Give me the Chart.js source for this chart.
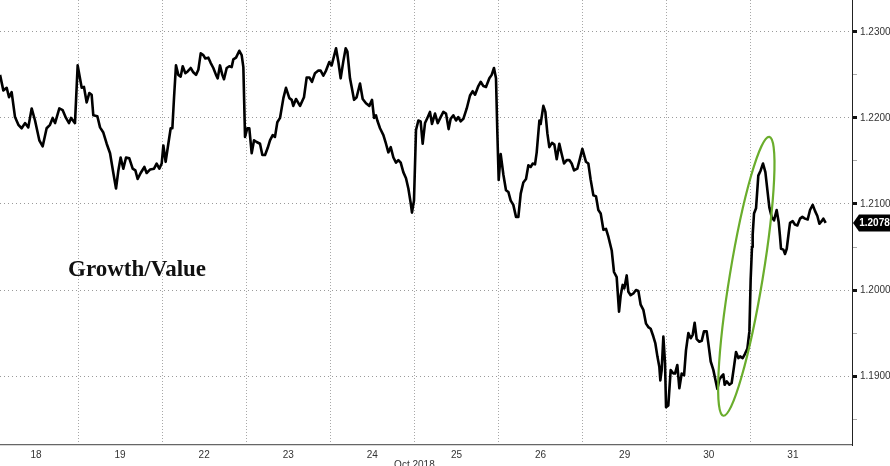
<!DOCTYPE html>
<html>
<head>
<meta charset="utf-8">
<script src="https://cdn.jsdelivr.net/npm/chart.js@4.4.0/dist/chart.umd.min.js"></script>
<style>
html, body { margin: 0; padding: 0; background: #fff; }
#wrap { width: 890px; height: 466px; }
</style>
</head>
<body>
<div id="wrap"><canvas id="myChart" width="890" height="466"></canvas></div>
<script>
// trading days shown on the axis (x unit = one trading day, 0 = start of Oct 18)
var dayLabels = ["18", "19", "22", "23", "24", "25", "26", "29", "30", "31"];
var dayCentres = [0.5, 1.5, 2.5, 3.5, 4.5, 5.5, 6.5, 7.5, 8.5, 9.5];
var dayBreaks = [1, 2, 3, 4, 5, 6, 7, 8, 9];
var monthLabel = "Oct 2018";

var yTicks = [1.185, 1.19, 1.195, 1.2, 1.205, 1.21, 1.215, 1.22, 1.225, 1.23];
var xMin = 0.0725, xMax = 10.203;
var yMin = 1.1820, yMax = 1.2337;

// sample time (in trading days) and Growth/Value ratio
var times = [
  // 18
  0.073, 0.112, 0.152, 0.180, 0.211, 0.251, 0.291, 0.330, 0.370, 0.409, 0.449, 0.489, 0.540,
  0.580, 0.627, 0.667, 0.699, 0.727, 0.778, 0.818, 0.857, 0.893, 0.917, 0.964, 0.996,
  // 19
  1.044, 1.071, 1.103, 1.135, 1.162, 1.182, 1.230, 1.262, 1.301, 1.341, 1.381, 1.420, 1.452,
  1.480, 1.507, 1.539, 1.571, 1.610, 1.650, 1.682, 1.709, 1.745, 1.789, 1.816, 1.856, 1.904,
  1.935, 1.967, 1.995, 2.015,
  // 22
  2.042, 2.074, 2.102, 2.122, 2.142, 2.165, 2.193, 2.221, 2.245, 2.276, 2.304, 2.340, 2.371,
  2.403, 2.431, 2.459, 2.490, 2.514, 2.550, 2.577, 2.609, 2.641, 2.661, 2.688, 2.716, 2.736,
  2.768, 2.799, 2.827, 2.847, 2.879, 2.918, 2.946, 2.966, 2.986,
  // 23
  3.013, 3.037, 3.065, 3.093, 3.124, 3.164, 3.192, 3.224, 3.255, 3.283, 3.315, 3.342, 3.370,
  3.402, 3.442, 3.473, 3.513, 3.541, 3.560, 3.592, 3.640, 3.687, 3.719, 3.751, 3.782, 3.818,
  3.858, 3.885, 3.917, 3.949, 3.988,
  // 24
  4.016, 4.068, 4.096, 4.123, 4.155, 4.183, 4.203, 4.234, 4.254, 4.282, 4.313, 4.353, 4.385,
  4.424, 4.464, 4.496, 4.520, 4.543, 4.559, 4.591, 4.631, 4.662, 4.690, 4.718, 4.750, 4.781,
  4.809, 4.837, 4.868, 4.900, 4.928, 4.956, 4.971, 4.995,
  // 25
  5.019, 5.047, 5.074, 5.098, 5.126, 5.154, 5.185, 5.209, 5.245, 5.277, 5.312, 5.344, 5.376,
  5.407, 5.431, 5.463, 5.495, 5.522, 5.550, 5.582, 5.622, 5.661, 5.693, 5.721, 5.760, 5.788,
  5.820, 5.851, 5.891, 5.919, 5.946, 5.970, 5.986,
  // 26
  6.002, 6.026, 6.058, 6.089, 6.117, 6.145, 6.176, 6.208, 6.236, 6.264, 6.295, 6.327, 6.355,
  6.382, 6.406, 6.434, 6.454, 6.486, 6.501, 6.533, 6.557, 6.581, 6.604, 6.636, 6.664, 6.692,
  6.723, 6.751, 6.779, 6.811, 6.842, 6.870, 6.898, 6.937, 6.969, 6.997,
  // 29
  7.040, 7.068, 7.096, 7.128, 7.159, 7.187, 7.215, 7.247, 7.278, 7.306, 7.346, 7.373, 7.405,
  7.433, 7.453, 7.476, 7.496, 7.524, 7.544, 7.571, 7.603, 7.635, 7.663, 7.690, 7.722, 7.754,
  7.781, 7.809, 7.841, 7.865, 7.889, 7.912, 7.924, 7.940, 7.960, 7.980, 7.992,
  // 30
  8.019, 8.047, 8.079, 8.099, 8.126, 8.150, 8.178, 8.206, 8.229, 8.257, 8.285, 8.309, 8.332,
  8.356, 8.388, 8.416, 8.443, 8.475, 8.495, 8.523, 8.555, 8.578, 8.602, 8.626, 8.653, 8.673,
  8.689, 8.713, 8.745, 8.772, 8.800, 8.824, 8.852, 8.872, 8.903, 8.931, 8.959, 8.983,
  // 31
  8.998, 9.014, 9.022, 9.038, 9.062, 9.089, 9.117, 9.145, 9.173, 9.197, 9.220, 9.248, 9.276,
  9.307, 9.331, 9.347, 9.359, 9.387, 9.407, 9.427, 9.450, 9.466, 9.498, 9.526, 9.553, 9.585,
  9.613, 9.644, 9.676, 9.704, 9.736, 9.763, 9.791, 9.815, 9.842, 9.862, 9.890
];
var ratio = [
  // 18
  1.2250, 1.2232, 1.2235, 1.2224, 1.2230, 1.2201, 1.2192, 1.2188, 1.2194, 1.2189, 1.2211, 1.2197, 1.2174,
  1.2167, 1.2188, 1.2192, 1.2200, 1.2194, 1.2211, 1.2209, 1.2200, 1.2194, 1.2200, 1.2194, 1.2261,
  // 19
  1.2235, 1.2236, 1.2218, 1.2229, 1.2227, 1.2203, 1.2202, 1.2189, 1.2183, 1.2170, 1.2159, 1.2136, 1.2118,
  1.2139, 1.2154, 1.2141, 1.2154, 1.2153, 1.2141, 1.2139, 1.2129, 1.2136, 1.2143, 1.2136, 1.2140, 1.2141,
  1.2147, 1.2141, 1.2147, 1.2168,
  // 22
  1.2149, 1.2170, 1.2188, 1.2188, 1.2224, 1.2261, 1.2250, 1.2248, 1.2260, 1.2252, 1.2254, 1.2258, 1.2253,
  1.2250, 1.2256, 1.2275, 1.2273, 1.2269, 1.2270, 1.2264, 1.2258, 1.2250, 1.2246, 1.2261, 1.2250, 1.2245,
  1.2258, 1.2260, 1.2259, 1.2268, 1.2270, 1.2278, 1.2273, 1.2259, 1.2178,
  // 23
  1.2188, 1.2188, 1.2159, 1.2174, 1.2172, 1.2170, 1.2157, 1.2157, 1.2165, 1.2174, 1.2180, 1.2178, 1.2195,
  1.2200, 1.2223, 1.2235, 1.2223, 1.2221, 1.2214, 1.2222, 1.2214, 1.2224, 1.2247, 1.2247, 1.2242, 1.2252,
  1.2255, 1.2255, 1.2249, 1.2255, 1.2265,
  // 24
  1.2261, 1.2281, 1.2265, 1.2246, 1.2266, 1.2281, 1.2277, 1.2246, 1.2236, 1.2221, 1.2224, 1.2240, 1.2222,
  1.2217, 1.2214, 1.2221, 1.2200, 1.2203, 1.2197, 1.2188, 1.2180, 1.2170, 1.2160, 1.2166, 1.2154, 1.2148,
  1.2151, 1.2148, 1.2137, 1.2130, 1.2118, 1.2101, 1.2090, 1.2104,
  // 25
  1.2186, 1.2197, 1.2196, 1.2170, 1.2194, 1.2200, 1.2207, 1.2193, 1.2205, 1.2194, 1.2201, 1.2207, 1.2205,
  1.2187, 1.2199, 1.2203, 1.2197, 1.2201, 1.2196, 1.2199, 1.2211, 1.2226, 1.2231, 1.2227, 1.2237, 1.2242,
  1.2237, 1.2236, 1.2246, 1.2250, 1.2258, 1.2246, 1.2183,
  // 26
  1.2128, 1.2158, 1.2134, 1.2116, 1.2114, 1.2104, 1.2099, 1.2085, 1.2085, 1.2112, 1.2125, 1.2129, 1.2145,
  1.2143, 1.2147, 1.2146, 1.2160, 1.2197, 1.2193, 1.2214, 1.2207, 1.2182, 1.2166, 1.2171, 1.2169, 1.2152,
  1.2170, 1.2158, 1.2147, 1.2151, 1.2151, 1.2147, 1.2139, 1.2141, 1.2153, 1.2164,
  // 29
  1.2149, 1.2147, 1.2128, 1.2110, 1.2109, 1.2093, 1.2089, 1.2070, 1.2071, 1.2062, 1.2046, 1.2021, 1.2015,
  1.1975, 1.1994, 1.2006, 1.2002, 1.2017, 1.1998, 1.1994, 1.1996, 1.2000, 1.1999, 1.1983, 1.1977, 1.1961,
  1.1957, 1.1955, 1.1946, 1.1938, 1.1923, 1.1911, 1.1895, 1.1907, 1.1946, 1.1915, 1.1864,
  // 30
  1.1866, 1.1907, 1.1903, 1.1903, 1.1913, 1.1886, 1.1903, 1.1901, 1.1930, 1.1950, 1.1944, 1.1948, 1.1962,
  1.1943, 1.1940, 1.1941, 1.1952, 1.1952, 1.1938, 1.1917, 1.1907, 1.1896, 1.1885, 1.1896, 1.1900, 1.1902,
  1.1890, 1.1894, 1.1890, 1.1892, 1.1911, 1.1928, 1.1921, 1.1923, 1.1921, 1.1926, 1.1932, 1.1952,
  // 31
  1.2012, 1.2050, 1.2064, 1.2089, 1.2095, 1.2133, 1.2139, 1.2147, 1.2137, 1.2116, 1.2096, 1.2085, 1.2081,
  1.2093, 1.2079, 1.2062, 1.2048, 1.2047, 1.2042, 1.2048, 1.2066, 1.2078, 1.2080, 1.2076, 1.2075, 1.2083,
  1.2085, 1.2083, 1.2082, 1.2093, 1.2099, 1.2092, 1.2086, 1.2077, 1.2080, 1.2083, 1.2078
];

// annotations
var chartTitle = "Growth/Value";
var titleAnchor = [0.881, 1.2016];
var ringTop = [9.220, 1.2178];
var ringBottom = [8.673, 1.1854];

function isMajor(v) {
    return Math.abs(v * 100 - Math.round(v * 100)) < 1e-6;
}

// no label padding: plot should run to the very top / left edge
function noPad(scale) {
    scale.paddingTop = 0;
    scale.paddingBottom = 0;
    scale.paddingLeft = 0;
    scale.paddingRight = 0;
}

var overlay = {
    id: 'overlay',
    afterDatasetsDraw: function(chart) {
        var ctx = chart.ctx;
        var xs = chart.scales.x, ys = chart.scales.y;

        // green ring round the last move
        var x1 = xs.getPixelForValue(ringTop[0]), y1 = ys.getPixelForValue(ringTop[1]);
        var x2 = xs.getPixelForValue(ringBottom[0]), y2 = ys.getPixelForValue(ringBottom[1]);
        var half = Math.hypot(x1 - x2, y1 - y2) / 2;
        var ang = Math.atan2(x1 - x2, y2 - y1);
        ctx.save();
        ctx.strokeStyle = '#6aad2c';
        ctx.lineWidth = 2.2;
        ctx.beginPath();
        ctx.ellipse((x1 + x2) / 2, (y1 + y2) / 2, 16.5, half, ang, 0, Math.PI * 2);
        ctx.stroke();
        ctx.restore();

        // title
        ctx.save();
        ctx.fillStyle = '#111';
        ctx.font = 'bold 23px "Liberation Serif"';
        ctx.textBaseline = 'alphabetic';
        ctx.textAlign = 'left';
        ctx.fillText(chartTitle, xs.getPixelForValue(titleAnchor[0]), ys.getPixelForValue(titleAnchor[1]));
        ctx.restore();
    },
    afterDraw: function(chart) {
        var ctx = chart.ctx;
        var xs = chart.scales.x, ys = chart.scales.y, area = chart.chartArea;

        // last value tag
        var last = ratio[ratio.length - 1];
        var ly = ys.getPixelForValue(last);
        var lx = area.right + 1;
        ctx.save();
        ctx.fillStyle = '#000';
        ctx.beginPath();
        ctx.moveTo(lx, ly);
        ctx.lineTo(lx + 6, ly - 8.5);
        ctx.lineTo(chart.width, ly - 8.5);
        ctx.lineTo(chart.width, ly + 8.5);
        ctx.lineTo(lx + 6, ly + 8.5);
        ctx.closePath();
        ctx.fill();
        ctx.fillStyle = '#fff';
        ctx.font = 'bold 10px "Liberation Sans"';
        ctx.textAlign = 'center';
        ctx.textBaseline = 'middle';
        ctx.fillText(last.toFixed(4), (lx + 6 + chart.width) / 2, ly + 0.5);

        // month under the day labels
        ctx.fillStyle = '#333';
        ctx.font = '10px "Liberation Sans"';
        ctx.textBaseline = 'top';
        ctx.fillText(monthLabel, xs.getPixelForValue(5), area.bottom + 15);
        ctx.restore();
    }
};

var points = times.map(function(t, i) { return { x: t, y: ratio[i] }; });

var ctx = document.getElementById("myChart").getContext('2d');
var myChart = new Chart(ctx, {
    type: 'line',
    data: {
        datasets: [{
            label: 'Growth/Value',
            data: points,
            borderColor: '#000',
            borderWidth: 2.6,
            pointRadius: 0,
            tension: 0,
            borderJoinStyle: 'round'
        }]
    },
    options: {
        responsive: false,
        animation: false,
        devicePixelRatio: 1,
        layout: { padding: 0 },
        plugins: { legend: { display: false }, tooltip: { enabled: false } },
        scales: {
            x: {
                type: 'linear',
                position: 'bottom',
                min: xMin,
                max: xMax,
                afterBuildTicks: function(scale) {
                    scale.ticks = dayBreaks.map(function(v) { return { value: v }; });
                },
                afterFit: function(scale) { scale.height = 0; noPad(scale); },
                ticks: { display: false },
                grid: { color: '#a8a8a8', lineWidth: 1, drawTicks: false },
                border: { display: true, color: '#666', width: 1.2, dash: [1, 2] }
            },
            xd: {
                type: 'linear',
                axis: 'x',
                position: 'bottom',
                min: xMin,
                max: xMax,
                afterBuildTicks: function(scale) {
                    scale.ticks = dayCentres.map(function(v) { return { value: v }; });
                },
                afterFit: function(scale) { scale.height = 21; noPad(scale); },
                ticks: {
                    autoSkip: false,
                    maxRotation: 0,
                    padding: 4,
                    color: '#333',
                    font: { family: 'Liberation Sans', size: 10 },
                    callback: function(value, index) { return dayLabels[index]; }
                },
                grid: { display: false, drawTicks: false },
                border: { display: false }
            },
            y: {
                type: 'linear',
                position: 'right',
                min: yMin,
                max: yMax,
                afterBuildTicks: function(scale) {
                    scale.ticks = yTicks.map(function(v) { return { value: v }; });
                },
                afterFit: function(scale) { scale.width = 38; noPad(scale); },
                ticks: {
                    padding: 3,
                    color: '#333',
                    font: { family: 'Liberation Sans', size: 10 },
                    callback: function(value) { return isMajor(value) ? value.toFixed(4) : ''; }
                },
                grid: {
                    color: function(c) { return c.tick && isMajor(c.tick.value) ? '#9a9a9a' : 'rgba(0,0,0,0)'; },
                    lineWidth: 1,
                    tickLength: 5,
                    tickColor: function(c) { return c.tick && isMajor(c.tick.value) ? '#111' : '#aaa'; },
                    tickWidth: function(c) { return c.tick && isMajor(c.tick.value) ? 3 : 1; }
                },
                border: { display: true, color: '#222', width: 1, dash: [1, 3] }
            }
        }
    },
    plugins: [overlay]
});
</script>
</body>
</html>
